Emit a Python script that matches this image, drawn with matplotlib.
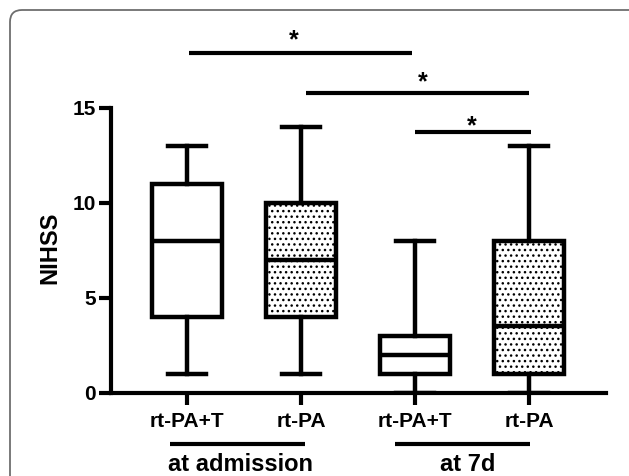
import matplotlib
matplotlib.use("Agg")
import matplotlib.pyplot as plt
from matplotlib.patches import FancyBboxPatch
from matplotlib.transforms import IdentityTransform

plt.rcParams['font.family'] = ['Liberation Sans', 'DejaVu Sans']
plt.rcParams['font.weight'] = 'bold'
plt.rcParams['hatch.linewidth'] = 1.0

# dados (NIHSS)
grupos = ["rt-PA+T", "rt-PA", "rt-PA+T", "rt-PA"]
minimo = [1, 1, 0, 0]
q1 = [4, 4, 1, 1]
mediana = [8, 7, 2, 3.5]
q3 = [11, 10, 3, 8]
maximo = [13, 14, 8, 13]
pontilhado = [False, True, False, True]

# comparacoes significativas: (x inicio, x fim, y linha, x estrela, y estrela)
comparacoes = [(1.02, 2.97, 17.87, 1.94, 18.18),
               (2.04, 4.0, 15.79, 3.07, 15.97),
               (3.0, 4.02, 13.74, 3.5, 13.66)]

# rotulos de tempo abaixo do eixo
periodos = ["at admission", "at 7d"]
periodo_x = [1.465, 3.46]
periodo_linha = [(0.85, 2.035), (2.82, 4.01)]

fig = plt.figure(figsize=(6.29, 4.76), dpi=100)
ax = fig.add_axes([0.176, 0.1744, 0.7875, 0.7983])

# moldura arredondada
moldura = FancyBboxPatch((10, -60), 700, 526, boxstyle="round,pad=0,rounding_size=12",
                         transform=IdentityTransform(), facecolor='none',
                         edgecolor='#6e6e6e', linewidth=1.3)
fig.patches.append(moldura)

stats = []
for i in range(len(grupos)):
    stats.append({"whislo": minimo[i], "q1": q1[i], "med": mediana[i],
                  "q3": q3[i], "whishi": maximo[i], "fliers": []})

lw = 3.2
caixas = ax.bxp(stats, positions=[1, 2, 3, 4], widths=0.62, capwidths=0.33,
                patch_artist=True, showfliers=False,
                boxprops=dict(facecolor='white', edgecolor='black', linewidth=lw),
                whiskerprops=dict(color='black', linewidth=lw),
                capprops=dict(color='black', linewidth=lw),
                medianprops=dict(color='black', linewidth=lw))
for caixa, p in zip(caixas['boxes'], pontilhado):
    if p:
        caixa.set_hatch('...')

ax.set_xlim(0.331, 4.675)
ax.set_ylim(0, 20)
ax.set_yticks([0, 5, 10, 15])
ax.set_xticks([1, 2, 3, 4])
ax.set_xticklabels(grupos)
ax.spines['top'].set_visible(False)
ax.spines['right'].set_visible(False)
ax.spines['left'].set_bounds(0, 15)
ax.spines['left'].set_linewidth(3)
ax.spines['bottom'].set_linewidth(3)
ax.tick_params(axis='both', length=8.6, width=3, labelsize=15)
ax.tick_params(axis='x', pad=5)
ax.tick_params(axis='y', pad=2)

ax.set_ylabel("NIHSS", fontsize=17, fontweight='bold')
ax.yaxis.set_label_coords(-0.1, 0.382)

for x0, x1, yl, xs, ys in comparacoes:
    ax.plot([x0, x1], [yl, yl], color='black', linewidth=3, clip_on=False,
            solid_capstyle='butt')
    ax.text(xs, ys, "*", fontsize=18, fontweight='bold', ha='center', va='baseline')

for nome, xc, (a, b) in zip(periodos, periodo_x, periodo_linha):
    ax.plot([a, b], [-2.68, -2.68], color='black', linewidth=3, clip_on=False,
            solid_capstyle='butt')
    ax.text(xc, -4.12, nome, fontsize=17, fontweight='bold', ha='center', va='baseline')

fig.savefig("out.png", dpi=100)
